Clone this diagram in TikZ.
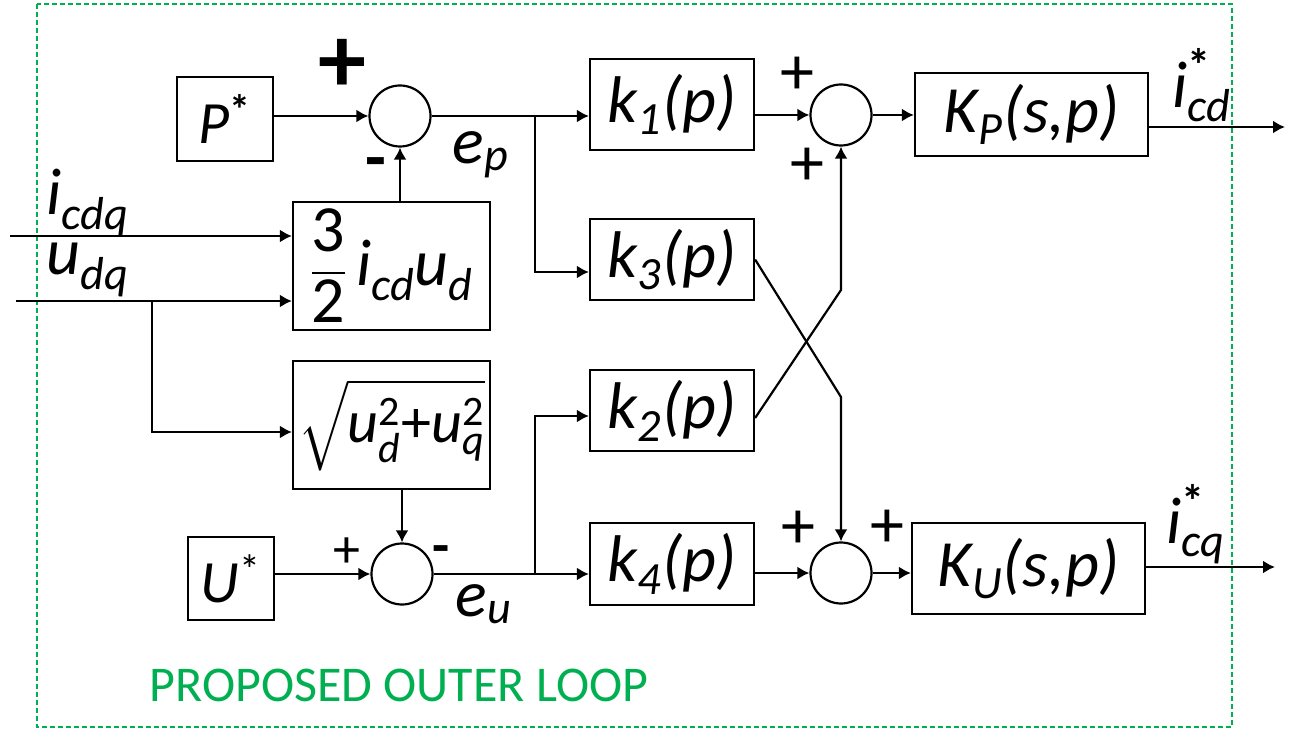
\documentclass[tikz,border=0pt]{standalone}
\usepackage{amsmath}
\usepackage{fontspec}
\setmainfont{Carlito}
\usepackage{tikz}
\usetikzlibrary{positioning,arrows.meta,calc}
\definecolor{loopgreen}{RGB}{0,176,80}
\newcommand{\mi}[1]{\text{\itshape #1}}

\begin{document}
\begin{tikzpicture}[
  x=0.5pt, y=-0.5pt,
  box/.style={draw, line width=1.1pt, inner sep=0pt, font=\fontsize{33}{38}\selectfont\itshape},
  sum/.style={draw, circle, line width=1.1pt, minimum size=30.5pt, inner sep=0pt},
  arr/.style={-{Latex[length=6pt,width=6.5pt]}, line width=1.1pt},
  sgn/.style={inner sep=0pt, font=\fontsize{34}{34}\selectfont},
  lbl/.style={inner sep=0pt, font=\fontsize{33}{38}\selectfont\itshape}
]
\useasboundingbox (0,0) rectangle (1295,732);
\draw[loopgreen, line width=1pt, dash pattern=on 2.5pt off 1.5pt] (37,4) rectangle (1232,727);

% power loop
\node[box, minimum width=48pt, minimum height=42pt, font=\fontsize{30}{34}\selectfont\itshape] (pref) at (225,119) {P\textsuperscript{\upshape\bfseries *}};
\node[sum] (s1) at (400,116) {};
\node[box, minimum width=98.5pt, minimum height=64pt, font=\fontsize{33}{38}\selectfont] (pw) at (391.5,266) {$\dfrac{\text{3}}{\text{2}}\,\mi{i\textsubscript{cd}u\textsubscript{d}}$};
\node[box, minimum width=82pt, minimum height=45.5pt] (k1) at (672,104.5) {k\textsubscript{1}(p)};
\node[box, minimum width=82pt, minimum height=40.5pt] (k3) at (672,259.5) {k\textsubscript{3}(p)};

% voltage loop
\node[box, minimum width=98.5pt, minimum height=64pt, font=\fontsize{30}{35}\selectfont] (mag) at (391.5,425) {$\sqrt{\vphantom{\text{X}^{\text{2}}_{\mi{q}}}\mi{u}^{\text{2}}_{\mi{d}}\text{+}\mi{u}^{\text{2}}_{\mi{q}}}$};
\node[box, minimum width=43pt, minimum height=41.5pt, font=\fontsize{30}{34}\selectfont\itshape] (uref) at (231,578.5) {U\textsuperscript{\upshape *}};
\node[sum] (s2) at (402,574) {};
\node[box, minimum width=82pt, minimum height=40.5pt] (k2) at (672,410.5) {k\textsubscript{2}(p)};
\node[box, minimum width=82pt, minimum height=41pt] (k4) at (672,564) {k\textsubscript{4}(p)};

% outputs
\node[sum] (s3) at (841,115) {};
\node[sum] (s4) at (841,573) {};
\node[box, minimum width=116.5pt, minimum height=41.5pt] (kp) at (1031.5,114.5) {K\textsubscript{P}(s,p)};
\node[box, minimum width=116.5pt, minimum height=45.5pt] (ku) at (1028.5,568.5) {K\textsubscript{U}(s,p)};

\coordinate (ep) at (535,116);
\coordinate (eu) at (535,574);
\coordinate (ic) at (10,236);
\coordinate (ud) at (16,301);
\coordinate (ub) at (152,301);
\coordinate (kx3) at (841,397);
\coordinate (kx2) at (841,290);
\coordinate (od) at (1285,127);
\coordinate (oq) at (1275,567);

\draw[arr] (pref.east |- s1) -- (s1.west);
\draw[arr] (s1.south |- pw.north) -- (s1.south);
\draw[line width=1.1pt] (s1.east) -- (ep);
\draw[arr] (ep) -- (ep -| k1.west);
\draw[arr] (ep) |- ([yshift=-6.25pt]k3.west);
\draw[arr] (ic) -- (ic -| pw.west);
\draw[arr] (ud) -- (ud -| pw.west);
\draw[arr] (ub) |- ([yshift=-3.5pt]mag.west);
\draw[arr] (s2.north |- mag.south) -- (s2.north);
\draw[arr] (uref.east |- s2) -- (s2.west);
\draw[line width=1.1pt] (s2.east) -- (eu);
\draw[arr] (eu) -- (eu -| k4.west);
\draw[arr] (eu) |- ([yshift=-2.75pt]k2.west);
\draw[arr] (k1.east |- s3) -- (s3.west);
\draw[arr] (k3.east) -- (kx3) -- (s4.north);
\draw[arr] ([yshift=-3.75pt]k2.east) -- (kx2) -- (s3.south);
\draw[arr] (s3.east) -- (s3.east -| kp.west);
\draw[arr] (od -| kp.east) -- (od);
\draw[arr] (k4.east |- s4) -- (s4.west);
\draw[arr] (s4.east) -- (s4.east -| ku.west);
\draw[arr] (oq -| ku.east) -- (oq);

% signs and signal names
\node[sgn, font=\fontsize{48}{48}\selectfont\bfseries] (p1) at (342,66) {+};
\node[sgn, font=\fontsize{34}{34}\selectfont\bfseries] (m1) at (376,169) {-};
\node[sgn, font=\fontsize{27}{27}\selectfont] (p2) at (347,553) {+};
\node[sgn, font=\fontsize{28}{28}\selectfont\bfseries] (m2) at (441,555) {-};
\node[sgn] (p3) at (797,76) {+};
\node[sgn] (p4) at (807,167) {+};
\node[sgn] (p5) at (798,530) {+};
\node[sgn] (p6) at (887,529) {+};
\node[lbl] (lep) at (481,155) {e\textsubscript{p}};
\node[lbl] (leu) at (484,604) {e\textsubscript{u}};
\node[lbl] (lic) at (88,203) {i\textsubscript{cdq}};
\node[lbl] (lud) at (88,270) {u\textsubscript{dq}};
\node[lbl] (lid) at (1202,85) {$\mi{i}^{\text{\upshape\bfseries *}}_{\mi{cd}}$};
\node[lbl] (liq) at (1196,524) {$\mi{i}^{\text{\upshape\bfseries *}}_{\mi{cq}}$};
\node[inner sep=0pt, text=loopgreen, font=\fontsize{25}{30}\selectfont] (title) at (399,685) {PROPOSED OUTER LOOP};
\end{tikzpicture}
\end{document}
